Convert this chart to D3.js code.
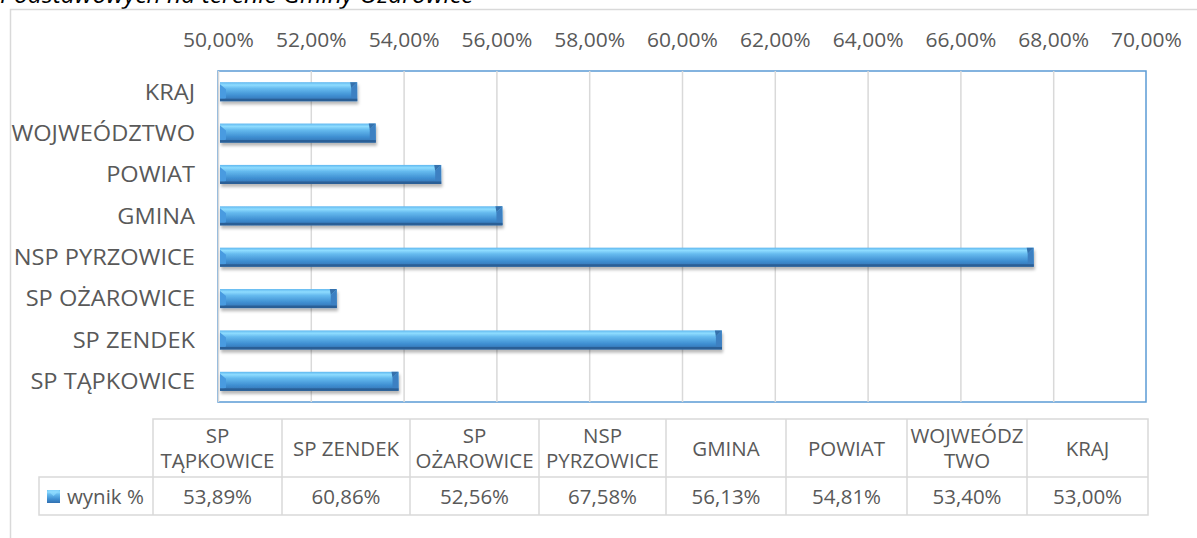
<!DOCTYPE html>
<html>
<head>
<meta charset="utf-8">
<script src="https://cdn.jsdelivr.net/npm/d3@7"></script>
<style>
  html, body { margin: 0; padding: 0; background: #fff; }
  svg { display: block; font-family: 'Open Sans', sans-serif; }
</style>
</head>
<body>
<svg id="chart" width="1197" height="538"></svg>
<script>
// data, in table order
const categories = ['SP TĄPKOWICE', 'SP ZENDEK', 'SP OŻAROWICE', 'NSP PYRZOWICE', 'GMINA', 'POWIAT', 'WOJWEÓDZTWO', 'KRAJ']
const tableHeaders = [['SP', 'TĄPKOWICE'], ['SP ZENDEK'], ['SP', 'OŻAROWICE'], ['NSP', 'PYRZOWICE'], ['GMINA'], ['POWIAT'], ['WOJWEÓDZ', 'TWO'], ['KRAJ']]
const values = [0.5389, 0.6086, 0.5256, 0.6758, 0.5613, 0.5481, 0.534, 0.53]
const seriesName = 'wynik %'
const xTicks = [0.5, 0.52, 0.54, 0.56, 0.58, 0.6, 0.62, 0.64, 0.66, 0.68, 0.7]
const titleText = 'Podstawowych na terenie Gminy Ożarowice'

const svg = d3.select('#chart')
const textColor = '#595959'
const gridColor = '#d9d9d9'
const sx = 1.05 // the original picture is a bit stretched sideways

const plot = { left: 218, right: 1146, top: 71, bottom: 402 }
// column edges of the data table (Excel auto widths)
const tableEdges = [153, 282, 410, 539, 666, 786, 907, 1027, 1148]
const table = { legendLeft: 39, top: 419, mid: 477, bottom: 515 }

const fmt = v => d3.format('.2f')(v * 100).replace('.', ',') + '%'

// bar gradient + shadow
const defs = svg.append('defs')
const grad = defs.append('linearGradient')
  .attr('id', 'barGrad').attr('x1', 0).attr('y1', 0).attr('x2', 0).attr('y2', 1)
grad.selectAll('stop')
  .data([[0, '#5fb7ef'], [0.15, '#8edcff'], [0.33, '#66bbef'], [0.7, '#3f8fd2'], [1, '#3270b0']])
  .enter().append('stop')
  .attr('offset', d => d[0]).attr('stop-color', d => d[1])
const shadow = defs.append('filter').attr('id', 'shadow')
  .attr('x', '-5%').attr('y', '-30%').attr('width', '110%').attr('height', '180%')
shadow.append('feDropShadow')
  .attr('dx', 1).attr('dy', 3).attr('stdDeviation', 1.8)
  .attr('flood-color', '#000').attr('flood-opacity', 0.28)

// title, cut off at the top
svg.append('text')
  .attr('transform', `translate(0,3) scale(${sx},1)`)
  .attr('font-style', 'italic')
  .attr('font-size', 23.5)
  .attr('fill', '#000')
  .text(titleText)

// outer chart frame
svg.append('path')
  .attr('d', 'M10.5,538 V9.5 H1197')
  .attr('fill', 'none').attr('stroke', gridColor).attr('stroke-width', 1.5)

const x = d3.scaleLinear().domain([0.5, 0.7]).range([plot.left, plot.right])
const y = d3.scaleBand()
  .domain(categories.slice().reverse())
  .range([plot.top, plot.bottom])
  .paddingInner(0.54).paddingOuter(0.27)

// plot area border
svg.append('rect')
  .attr('x', plot.left).attr('y', plot.top)
  .attr('width', plot.right - plot.left).attr('height', plot.bottom - plot.top)
  .attr('fill', 'none').attr('stroke', '#5b9bd5').attr('stroke-width', 1.5)

// vertical gridlines
svg.append('g')
  .attr('transform', `translate(0,${plot.top})`)
  .call(d3.axisTop(x).tickValues(xTicks.slice(0, -1)).tickSize(-(plot.bottom - plot.top)).tickFormat(''))
  .call(g => g.select('.domain').remove())
  .selectAll('line')
  .attr('stroke', gridColor).attr('stroke-width', 1.5)

// x axis labels on top
svg.append('g')
  .attr('transform', 'translate(0,40)')
  .call(d3.axisTop(x).tickValues(xTicks).tickSize(0).tickFormat(fmt))
  .call(g => g.select('.domain').remove())
  .selectAll('text')
  .attr('y', 0).attr('dy', '0.35em')
  .attr('transform', `scale(${sx},1)`)
  .attr('font-family', "'Open Sans', sans-serif")
  .attr('font-size', 20)
  .attr('fill', textColor)

// category labels
svg.append('g')
  .attr('transform', 'translate(195,0)')
  .call(d3.axisLeft(y).tickSize(0))
  .call(g => g.select('.domain').remove())
  .selectAll('text')
  .attr('x', 0).attr('dy', '0.35em')
  .attr('transform', `scale(${sx},1)`)
  .attr('font-family', "'Open Sans', sans-serif")
  .attr('font-size', 22.5)
  .attr('fill', textColor)

// bevelled bars
const bars = svg.append('g').selectAll('g')
  .data(categories.map((c, i) => ({ c, v: values[i] })))
  .enter().append('g')
  .attr('filter', 'url(#shadow)')

bars.each(function (d) {
  const g = d3.select(this)
  const x0 = x(0.5) + 2
  const x1 = x(d.v)
  const y0 = y(d.c)
  const y1 = y0 + y.bandwidth()
  const b = 6
  g.append('rect')
    .attr('x', x0).attr('y', y0).attr('width', x1 - x0).attr('height', y1 - y0)
    .attr('fill', 'url(#barGrad)')
  g.append('polygon') // right face
    .attr('points', [[x1, y0], [x1, y1], [x1 - b, y1 - 3], [x1 - b, y0 + b]].join(' '))
    .attr('fill', '#3d80c2')
  g.append('polygon') // top right corner
    .attr('points', [[x1, y0], [x1 - b, y0 + b], [x1 - b - 1, y0]].join(' '))
    .attr('fill', '#3471ad')
  g.append('polygon') // left face
    .attr('points', [[x0, y0 + 2], [x0 + b, y0 + b + 1], [x0 + b, y1 - 3], [x0, y1]].join(' '))
    .attr('fill', '#4a9be0')
  g.append('rect') // bottom edge
    .attr('x', x0).attr('y', y1 - 2.5).attr('width', x1 - x0).attr('height', 2.5)
    .attr('fill', '#2c5f96')
})

// data table
const tg = svg.append('g').attr('fill', 'none').attr('stroke', gridColor).attr('stroke-width', 1.5)
tg.append('path')
  .attr('d', `M${tableEdges[0]},${table.mid} V${table.top} H${tableEdges[8]} V${table.bottom} H${table.legendLeft} V${table.mid} H${tableEdges[8]}`)
tg.selectAll('line.col')
  .data(tableEdges.slice(1, -1))
  .enter().append('line')
  .attr('x1', d => d).attr('x2', d => d)
  .attr('y1', table.top).attr('y2', table.bottom)
tg.append('line')
  .attr('x1', tableEdges[0]).attr('x2', tableEdges[0])
  .attr('y1', table.mid).attr('y2', table.bottom)

const cells = svg.append('g')
  .attr('font-family', "'Open Sans', sans-serif")
  .attr('font-size', 19.5)
  .attr('fill', textColor)
  .attr('text-anchor', 'middle')
  .selectAll('g')
  .data(categories.map((c, i) => ({ h: tableHeaders[i], v: values[i], cx: (tableEdges[i] + tableEdges[i + 1]) / 2 })))
  .enter().append('g')

cells.each(function (d) {
  const g = d3.select(this)
  const cy = (table.top + table.mid) / 2 + 1
  const lh = 25
  d.h.forEach((line, j) => {
    g.append('text')
      .attr('transform', `translate(${d.cx},${cy + (j - (d.h.length - 1) / 2) * lh}) scale(${sx},1)`)
      .attr('dy', '0.35em')
      .text(line)
  })
  g.append('text')
    .attr('transform', `translate(${d.cx},${(table.mid + table.bottom) / 2 + 1}) scale(${sx},1)`)
    .attr('dy', '0.35em')
    .text(fmt(d.v))
})

// legend key in the table
const ky = (table.mid + table.bottom) / 2
const key = svg.append('g')
key.append('rect')
  .attr('x', 47).attr('y', ky - 6).attr('width', 13).attr('height', 13)
  .attr('fill', 'url(#barGrad)')
key.append('polygon')
  .attr('points', [[47, ky - 6], [60, ky - 6], [53.5, ky]].join(' '))
  .attr('fill', '#8fdcff').attr('opacity', 0.7)
key.append('text')
  .attr('transform', `translate(67,${ky + 1}) scale(${sx},1)`)
  .attr('dy', '0.35em')
  .attr('font-family', "'Open Sans', sans-serif")
  .attr('font-size', 19.5)
  .attr('fill', textColor)
  .text(seriesName)
</script>
</body>
</html>
